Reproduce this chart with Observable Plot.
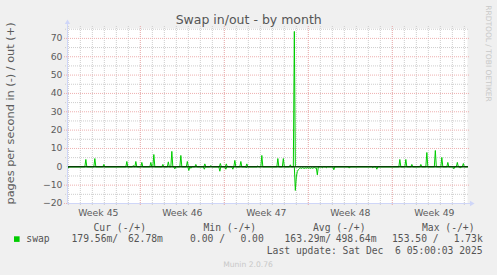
<!DOCTYPE html>
<html><head><meta charset="utf-8">
<script src="https://cdn.jsdelivr.net/npm/d3@7"></script>
<script src="https://cdn.jsdelivr.net/npm/@observablehq/plot@0.6"></script>
<style>
html,body{margin:0;padding:0;background:#f0f0f0;}
#chart{position:relative;width:497px;height:275px;overflow:hidden;}
</style></head><body><div id="chart"></div>
<script>
// ---- data ----
const rangeStart = "2025-11-02T22:20Z";
const rangeEnd = "2025-12-06T06:20Z";

// swap out (+)
const outTimes = [
  "2025-11-04T11:00Z","2025-11-05T05:00Z","2025-11-05T23:00Z","2025-11-07T21:00Z","2025-11-08T10:00Z",
  "2025-11-08T15:00Z","2025-11-09T03:00Z","2025-11-09T21:00Z","2025-11-10T03:00Z","2025-11-10T21:00Z",
  "2025-11-11T08:00Z","2025-11-11T15:00Z","2025-11-12T09:00Z","2025-11-12T22:00Z","2025-11-13T15:00Z",
  "2025-11-14T09:00Z","2025-11-14T21:00Z","2025-11-15T16:00Z","2025-11-16T04:00Z","2025-11-16T21:00Z",
  "2025-11-17T09:00Z","2025-11-17T21:00Z","2025-11-18T19:00Z","2025-11-19T03:00Z","2025-11-20T11:00Z",
  "2025-11-20T22:00Z","2025-11-21T12:00Z","2025-11-21T20:00Z","2025-11-30T15:00Z","2025-12-01T03:00Z",
  "2025-12-01T15:00Z","2025-12-02T09:00Z","2025-12-02T21:00Z","2025-12-03T14:00Z","2025-12-04T03:00Z",
  "2025-12-04T15:00Z","2025-12-05T10:00Z","2025-12-05T22:00Z"
];
const outValues = [
  4.0, 4.5, 1.3, 2.9, 0.7,
  2.9, 2.4, 2.4, 6.7, 1.3,
  2.7, 8.4, 6.2, 2.9, 1.3,
  1.6, 0.7, 1.8, 1.6, 3.5,
  2.9, 1.6, 0.5, 6.2, 4.5,
  4.5, 1.1, 73.8, 4.0, 4.0,
  1.3, 1.3, 7.8, 8.9, 5.1,
  2.4, 2.4, 1.8
];

// swap in (-)
const inTimes = [
  "2025-11-03T00:00Z","2025-11-11T21:00Z","2025-11-13T01:00Z","2025-11-13T05:00Z","2025-11-14T08:00Z",
  "2025-11-15T15:00Z","2025-11-16T03:00Z","2025-11-16T17:00Z","2025-11-17T20:00Z",
  "2025-11-21T22:00Z","2025-11-22T00:00Z","2025-11-22T02:00Z","2025-11-22T04:00Z","2025-11-22T06:00Z",
  "2025-11-22T08:00Z","2025-11-22T10:00Z","2025-11-22T12:00Z","2025-11-22T14:00Z","2025-11-22T16:00Z",
  "2025-11-22T18:00Z","2025-11-22T20:00Z","2025-11-22T22:00Z","2025-11-23T00:00Z","2025-11-23T02:00Z",
  "2025-11-23T04:00Z","2025-11-23T06:00Z","2025-11-23T08:00Z","2025-11-23T10:00Z","2025-11-23T12:00Z",
  "2025-11-23T14:00Z","2025-11-23T16:00Z","2025-11-23T18:00Z",
  "2025-11-24T04:00Z","2025-11-24T12:00Z","2025-11-25T03:00Z","2025-11-26T10:00Z","2025-11-28T09:00Z",
  "2025-11-28T17:00Z","2025-12-05T03:00Z","2025-12-05T16:00Z"
];
const inValues = [
  -0.7, -1.1, -2.0, -0.8, -1.3,
  -2.4, -1.3, -1.3, -0.6,
  -12.9, -5.5, -2.5, -1.6, -1.0,
  -0.6, -0.9, -0.5, -0.7, -0.9,
  -0.6, -0.8, -0.5, -0.8, -0.6,
  -0.9, -0.5, -0.8, -0.6, -0.4,
  -0.7, -0.6, -4.4,
  -0.5, -0.5, -1.6, -0.7, -0.5,
  -1.3, -1.1, -0.7
];

const weekTickDates = ["2025-11-05T12:00Z","2025-11-12T12:00Z","2025-11-19T12:00Z","2025-11-26T12:00Z","2025-12-03T12:00Z"];
const weekTickLabels = ["Week 45","Week 46","Week 47","Week 48","Week 49"];
const yTicks = [-20, -10, 0, 10, 20, 30, 40, 50, 60, 70];
const yMinorTicks = [-15, -5, 5, 15, 25, 35, 45, 55, 65, 75];
const yDomain = [-20, 75.4];

const titleText = "Swap in/out - by month";
const yLabelText = "pages per second in (-) / out (+)";
const watermarkText = "RRDTOOL / TOBI OETIKER";
const seriesName = "swap";
const legendHeaders = ["Cur (-/+)", "Min (-/+)", "Avg (-/+)", "Max (-/+)"];
const legendLeft = ["179.56m/", "0.00 /", "163.29m/", "153.50 /"];
const legendRight = ["62.78m", "0.00", "498.64m", "1.73k"];
const lastUpdateText = "Last update: Sat Dec  6 05:00:03 2025";
const versionText = "Munin 2.0.76";

// ---- build series (baseline 0 around each sample) ----
const STEP = 2 * 3600e3;
const x0 = new Date(rangeStart), x1 = new Date(rangeEnd);
function buildSeries(times, values) {
  const pts = times.map((t, i) => ({t: new Date(t), v: values[i]}));
  const all = pts.slice();
  for (const p of pts) {
    const hasBefore = pts.some(q => q.t < p.t && p.t - q.t <= STEP);
    const hasAfter = pts.some(q => q.t > p.t && q.t - p.t <= STEP);
    if (!hasBefore) all.push({t: new Date(+p.t - STEP), v: 0});
    if (!hasAfter) all.push({t: new Date(+p.t + STEP), v: 0});
  }
  all.push({t: x0, v: 0}, {t: x1, v: 0});
  return all.filter(d => d.t >= x0 && d.t <= x1).sort((a, b) => a.t - b.t);
}
const outSeries = buildSeries(outTimes, outValues);
const inSeries = buildSeries(inTimes, inValues);

const labelMap = new Map(weekTickDates.map((d, i) => [+new Date(d), weekTickLabels[i]]));
const dayLines = d3.utcDay.range(d3.utcDay.ceil(x0), x1);
const weekLines = d3.utcSunday.range(d3.utcSunday.ceil(x0), x1);

const GREEN = "#00cc00", AXIS = "#cfd6f8", GRID = "#cdcdcd", MGRID = "#eeb0b0", FONT = "#5c5c5c";

const chart = Plot.plot({
  width: 497, height: 275,
  marginLeft: 67, marginRight: 30, marginTop: 28, marginBottom: 72,
  style: {background: "#f0f0f0", fontFamily: "DejaVu Sans", fontSize: "9.3px"},
  x: {type: "utc", domain: [x0, x1], label: null},
  y: {domain: yDomain, label: null},
  marks: [
    Plot.frame({fill: "white", stroke: null}),
    Plot.ruleX(dayLines, {stroke: GRID, strokeDasharray: "1,1", insetTop: -2, insetBottom: -2}),
    Plot.ruleY(yMinorTicks, {stroke: GRID, strokeDasharray: "1,1", insetLeft: -2, insetRight: -2}),
    Plot.ruleX(weekLines, {stroke: MGRID, strokeDasharray: "1,1", insetTop: -2, insetBottom: -3}),
    Plot.ruleY(yTicks.filter(v => v !== 0), {stroke: MGRID, strokeDasharray: "1,1", insetLeft: -3, insetRight: -2}),
    Plot.line(inSeries, {x: "t", y: "v", stroke: GREEN, strokeWidth: 1}),
    Plot.line(outSeries, {x: "t", y: "v", stroke: GREEN, strokeWidth: 1}),
    Plot.ruleY([0], {stroke: "black", strokeWidth: 1, insetRight: -1}),
    Plot.ruleX([x0], {stroke: AXIS, insetTop: -6}),
    Plot.ruleY([yDomain[0]], {stroke: AXIS, insetRight: -4}),
    Plot.dot([x0], {x: d => d, frameAnchor: "top", dy: -6, symbol: "triangle", r: 2, fill: AXIS, stroke: null}),
    Plot.dot([yDomain[0]], {y: d => d, frameAnchor: "right", dx: 4, symbol: "triangle", rotate: 90, r: 2, fill: AXIS, stroke: null}),
    Plot.axisY(yTicks, {tickSize: 0, tickPadding: 5, fill: FONT, fontSize: 9.3, label: null}),
    Plot.axisX(weekTickDates.map(d => new Date(d)), {tickSize: 0, tickPadding: 6, fill: FONT, fontSize: 9.3, label: null,
      tickFormat: d => labelMap.get(+d)})
  ]
});
document.getElementById("chart").appendChild(chart);

// ---- titles, watermark, legend ----
const svg = d3.select(chart);
function txt(s, x, y, opts = {}) {
  const t = svg.append("text").attr("x", x).attr("y", y).text(s)
    .attr("text-anchor", opts.anchor || "start")
    .attr("font-family", opts.family || "DejaVu Sans")
    .attr("font-size", opts.size || 9.7)
    .attr("fill", opts.fill || "#555")
    .style("white-space", "pre");
  if (opts.rotate) t.attr("transform", `rotate(${opts.rotate},${x},${y})`);
  return t;
}
txt(titleText, 248.7, 24.3, {anchor: "middle", size: 12.5, fill: "#555"});
txt(yLabelText, 13.5, 113.5, {anchor: "middle", size: 11.3, fill: FONT, rotate: -90});
txt(watermarkText, 485.5, 53.5, {anchor: "middle", size: 7.5, fill: "#c8c8c8", rotate: 90});

const MONO = "DejaVu Sans Mono";
const headerX = [93.5, 203.5, 313, 422];
const leftX = [71.5, 190, 284.5, 392];
const rightX = [162.9, 263.8, 376.5, 482.8];
legendHeaders.forEach((h, i) => txt(h, headerX[i], 230.5, {family: MONO, fill: "#555"}));
svg.append("rect").attr("x", 14).attr("y", 236.3).attr("width", 5.6).attr("height", 5.6).attr("fill", GREEN);
txt(seriesName, 26.3, 242, {family: MONO, fill: "#555"});
legendLeft.forEach((s, i) => txt(s, leftX[i], 242, {family: MONO, fill: "#555"}));
legendRight.forEach((s, i) => txt(s, rightX[i], 242, {family: MONO, fill: "#555", anchor: "end"}));
txt(lastUpdateText, 482.6, 253.5, {family: MONO, fill: "#555", anchor: "end"});
txt(versionText, 248, 267, {anchor: "middle", size: 7.6, fill: "#c8c8c8"});
</script>
</body></html>
